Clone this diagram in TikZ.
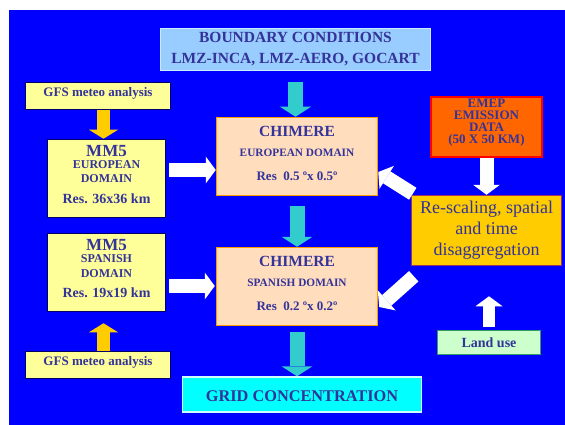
\documentclass[tikz,border=0pt]{standalone}
\usepackage{fontspec}
\setmainfont{Liberation Serif}
\usetikzlibrary{positioning,arrows.meta}

\definecolor{bgblue}{HTML}{0000FF}
\definecolor{txtblue}{HTML}{333399}
\definecolor{bcfill}{HTML}{99CCFF}
\definecolor{bcline}{HTML}{CCECFF}
\definecolor{mmfill}{HTML}{FFFF99}
\definecolor{mmline}{HTML}{000066}
\definecolor{chfill}{HTML}{FFDDBD}
\definecolor{chline}{HTML}{FF9900}
\definecolor{emfill}{HTML}{FF6600}
\definecolor{emline}{HTML}{FF0000}
\definecolor{rsfill}{HTML}{FFCC00}
\definecolor{rsline}{HTML}{993366}
\definecolor{lufill}{HTML}{CCFFCC}
\definecolor{luline}{HTML}{339966}
\definecolor{grfill}{HTML}{00FFFF}
\definecolor{grline}{HTML}{CCFFFF}
\definecolor{tealarr}{HTML}{33CCCC}
\definecolor{yelarr}{HTML}{FFCC00}

\newcommand{\setfs}[2]{\fontsize{#1}{#2}\selectfont}
\newcommand{\lowstrut}[1]{\rule[-#1]{0pt}{#1}}

\tikzset{
  box/.style={draw, line width=1.5pt, inner sep=0pt, align=center, text=txtblue},
  yarrow/.style={draw=yelarr, line width=13pt, -{Triangle[width=29pt,length=9pt,line width=0pt]}},
  tarrow/.style={draw=tealarr, line width=15pt, -{Triangle[width=31pt,length=10pt,line width=0pt]}},
  warrow/.style={draw=white, line width=14pt, -{Triangle[width=27pt,length=10pt,line width=0pt]}}
}

\begin{document}
\begin{tikzpicture}[x=1pt,y=-1pt]
    %Background
    \useasboundingbox (0,0) rectangle (565,425);
    \fill[bgblue] (9,10) rectangle (565,425);

    %Nodes
    \node[box, draw=bcline, fill=bcfill, minimum width=270pt, minimum height=42pt,
          font=\bfseries\setfs{15.5}{21}] at (295.5,49.5) (bc)
          {BOUNDARY CONDITIONS\\LMZ-INCA, LMZ-AERO, GOCART};
    \node[box, draw=mmline, fill=mmfill, minimum width=145pt, minimum height=27pt,
          font=\bfseries\setfs{13}{14}] at (98,96) (gfsA)
          {GFS meteo analysis\lowstrut{8.7pt}};
    \node[box, draw=mmline, fill=mmfill, minimum width=118pt, minimum height=78pt,
          font=\bfseries\setfs{12}{12}] at (106.5,178.5) (mmEu)
          {{\setfs{17}{17}MM5}\\EUROPEAN\\[2pt]DOMAIN\\[9pt]{\setfs{14}{14}Res. 36x36 km\lowstrut{7.3pt}}};
    \node[box, draw=mmline, fill=mmfill, minimum width=118pt, minimum height=78pt,
          font=\bfseries\setfs{12}{12}] at (106.5,272.5) (mmSp)
          {{\setfs{17}{17}MM5}\\SPANISH\\[2.5pt]DOMAIN\\[8.5pt]{\setfs{14}{14}Res. 19x19 km\lowstrut{7.3pt}}};
    \node[box, draw=mmline, fill=mmfill, minimum width=145pt, minimum height=27pt,
          font=\bfseries\setfs{13}{14}] at (98,365) (gfsB)
          {GFS meteo analysis\lowstrut{8.6pt}};
    \node[box, draw=chline, fill=chfill, minimum width=161pt, minimum height=78pt,
          font=\bfseries\setfs{11.3}{20}] at (297,156.5) (chimEu)
          {{\setfs{15.5}{16}CHIMERE}\\EUROPEAN DOMAIN\\[3.5pt]{\setfs{13}{14}Res\ \ 0.5 ºx 0.5º\lowstrut{6pt}}};
    \node[box, draw=chline, fill=chfill, minimum width=161pt, minimum height=78pt,
          font=\bfseries\setfs{11.3}{20}] at (297,286.5) (chimSp)
          {{\setfs{15.5}{16}CHIMERE}\\SPANISH DOMAIN\\[3.5pt]{\setfs{13}{14}Res\ \ 0.2 ºx 0.2º\lowstrut{6pt}}};
    \node[box, draw=grline, fill=grfill, minimum width=239pt, minimum height=35pt,
          font=\bfseries\setfs{16.3}{18}] at (302,394.5) (grid)
          {GRID CONCENTRATION\rule{0pt}{14pt}};
    \node[box, draw=emline, line width=2pt, fill=emfill, minimum width=111pt, minimum height=60pt,
          font=\bfseries\setfs{13}{12}] at (486.5,127) (emep)
          {EMEP\\EMISSION\\DATA\\(50 X 50 KM)\lowstrut{10.6pt}};
    \node[box, draw=rsline, fill=rsfill, minimum width=150pt, minimum height=70pt,
          font=\setfs{18}{21}] at (486.5,230.5) (resc)
          {Re-scaling, spatial\\and time\\disaggregation};
    \node[box, draw=luline, fill=lufill, minimum width=103pt, minimum height=24pt,
          font=\bfseries\setfs{14}{14}] at (489,342.5) (land)
          {Land use};

    %Arrows
    \draw[yarrow] ([xshift=5.5pt]gfsA.south) -- ([xshift=-3pt]mmEu.north);
    \draw[yarrow, shorten >=11pt] ([xshift=5.5pt]gfsB.north) -- ([xshift=-3pt]mmSp.south);
    \draw[tarrow, shorten <=11pt] (bc.south) -- (bc.south |- chimEu.north);
    \draw[tarrow, shorten <=10pt] (chimEu) -- (chimSp);
    \draw[tarrow, shorten <=6pt] (chimSp.south) -- (chimSp.south |- grid.north);
    \draw[warrow, shorten <=3pt] ([yshift=8.5pt]mmEu.east) -- ([yshift=8.5pt]mmEu.east -| chimEu.west);
    \draw[warrow, shorten <=3pt, shorten >=1pt] ([yshift=-13.5pt]mmSp.east) -- ([yshift=-13.5pt]mmSp.east -| chimSp.west);
    \draw[warrow] (emep) -- (resc);
    \draw[warrow, line width=12pt, shorten <=3pt, shorten >=30pt] (land) -- (land |- resc.south);
    \draw[warrow] ([shift={(2pt,1pt)}]resc.north west) -- ([yshift=-15.5pt]chimEu.east);
    \draw[warrow] ([shift={(3pt,-10pt)}]resc.south west) -- ([shift={(1pt,-20.5pt)}]chimSp.east);
\end{tikzpicture}
\end{document}
